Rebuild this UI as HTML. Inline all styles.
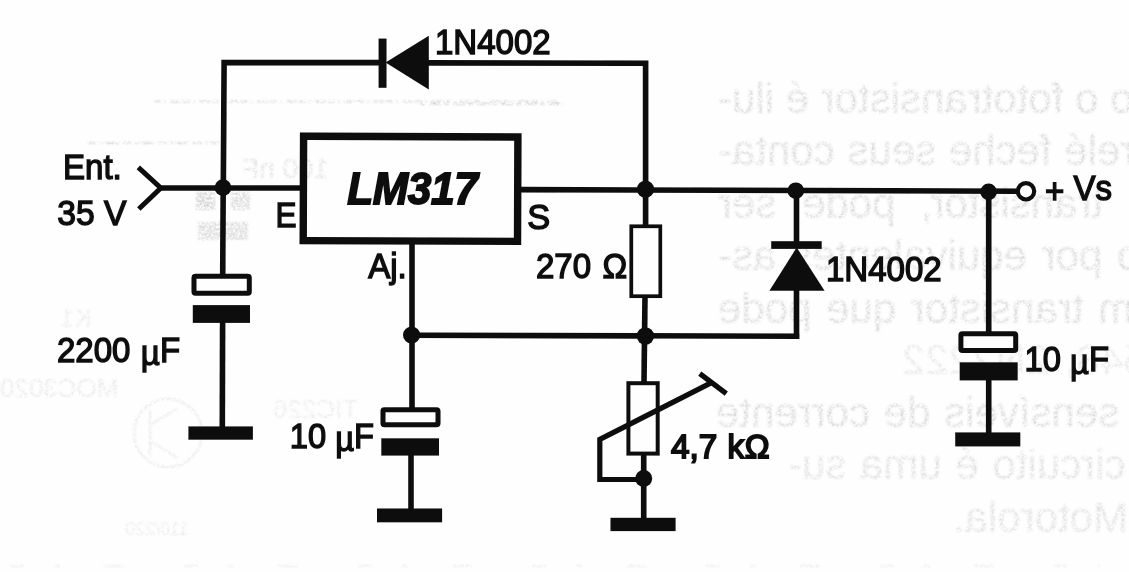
<!DOCTYPE html>
<html lang="pt">
<head>
<meta charset="utf-8">
<title>LM317 - fonte ajustável</title>
<style>
html,body{margin:0;padding:0;background:#fefefe;}
body{width:1129px;height:572px;overflow:hidden;position:relative;}
svg{position:absolute;left:0;top:0;display:block;}
.t{font-family:"Liberation Sans",sans-serif;font-size:35.6px;fill:#111;stroke:#111;stroke-width:1.45px;}
.lm{font-family:"Liberation Sans",sans-serif;font-size:45px;font-weight:bold;font-style:italic;fill:#111;stroke:#111;stroke-width:1.8px;letter-spacing:-0.4px;}
.w{stroke:#0c0c0c;stroke-width:5.6;fill:none;stroke-linecap:butt;stroke-linejoin:miter;}
.f{fill:#0c0c0c;stroke:none;}
.g{font-family:"Liberation Sans",sans-serif;font-size:42px;fill:#d9d9d9;}
</style>
</head>
<body>
<svg width="1129" height="572" viewBox="0 0 1129 572">
<defs>
<filter id="soft" x="-2%" y="-2%" width="104%" height="104%"><feGaussianBlur stdDeviation="0.55"/></filter>
<filter id="ghost" x="-2%" y="-10%" width="104%" height="120%">
<feGaussianBlur in="SourceGraphic" stdDeviation="0.9" result="b"/>
<feTurbulence type="fractalNoise" baseFrequency="0.42" numOctaves="2" seed="7" result="n"/>
<feColorMatrix in="n" type="matrix" values="0 0 0 0 0  0 0 0 0 0  0 0 0 0 0  2.4 0 0 0 -0.62" result="na"/>
<feComposite in="b" in2="na" operator="in" result="c"/>
<feGaussianBlur in="c" stdDeviation="0.5"/>
</filter>
</defs>
<rect x="0" y="0" width="1129" height="572" fill="#fefefe"/>

<!-- bleed-through (mirrored) text from the back of the page -->
<g class="g" filter="url(#ghost)" transform="translate(1850,0) scale(-1,1)" text-anchor="end">
<text x="1132" y="112.5" style="word-spacing:0px">do o fototransistor é ilu-</text>
<text x="1132" y="165" style="word-spacing:1px">que o relé feche seus conta-</text>
<text x="1132" y="217.5" style="word-spacing:14px">O transistor, pode ser</text>
<text x="1132" y="270" style="word-spacing:3px">do por equivalentes as-</text>
<text x="1132" y="322.5" style="word-spacing:3px">um transistor que pode</text>
<text x="948" y="374" style="word-spacing:4px;fill:#e6e6e6">o BC548, 2N2222</text>
<text x="1134" y="427" style="word-spacing:2px">mais sensíveis de corrente</text>
<text x="1062" y="479" style="word-spacing:2px;fill:#dfdfdf">mA. O circuito é uma su-</text>
<text x="897" y="532" style="word-spacing:0px;fill:#e0e0e0">da Motorola.</text>
<text x="1608" y="178" style="font-size:28px;fill:#dcdcdc">100 nF</text>
<text x="1850" y="397" style="font-size:26px;fill:#e6e6e6">MOC3020</text>
<text x="1790" y="327" style="font-size:26px;fill:#e8e8e8">K1</text>
<text x="1577" y="418" style="font-size:26px;fill:#e8e8e8">TIC226</text>
<text x="1725" y="535" style="font-size:18px;fill:#e6e6e6">110/220</text>
</g>

<g filter="url(#ghost)" fill="none" stroke="#d0d0d0" stroke-width="2">
<path d="M154 101.5 H560" stroke-dasharray="7 3 2 4 11 2"/>
<path d="M88 143 H219" stroke-dasharray="9 3 3 2 14 4"/>
<path d="M420 104 H565" stroke-dasharray="5 4 12 3"/>
<path d="M10 566 H1100" stroke="#e2e2e2" stroke-width="1.5" stroke-dasharray="14 30 6 44 20 60"/>
<circle cx="168" cy="433" r="34" stroke="#e4e4e4"/>
<path d="M150 410 V456 M150 425 L178 408 M150 441 L178 458" stroke="#e4e4e4"/>
<rect x="196" y="192" width="19" height="18" fill="#d8d8d8" stroke="none"/>
<rect x="231" y="192" width="19" height="18" fill="#dedede" stroke="none"/>
<rect x="198" y="222" width="50" height="18" fill="#dedede" stroke="none"/>
</g>
<g filter="url(#soft)">
<!-- wires -->
<path class="w" d="M223.3 190 L224.1 62.6 H380"/>
<path class="w" d="M428 62.9 L645.6 63.3 V226"/>
<path class="w" d="M160 188 H301"/>
<path class="w" d="M520 189.6 L1017 191.2"/>
<path class="w" d="M223.2 188 L222.7 275"/>
<path class="w" d="M222.6 322 L222.3 428"/>
<path class="w" d="M412 243 V408"/>
<path class="w" d="M411 455 V510"/>
<path class="w" d="M411.6 335.3 L799.2 336.2"/>
<path class="w" d="M645 297 L644 382"/>
<path class="w" d="M643.7 455 V519"/>
<path class="w" d="M796.5 190.5 V243"/>
<path class="w" d="M796.5 290 V338.9"/>
<path class="w" d="M988.7 191 V333"/>
<path class="w" d="M988.7 380 V434"/>

<!-- input arrow -->
<path class="w" style="stroke-width:5" d="M138.3 167.3 L160.8 188 L138.8 209"/>

<!-- diode 1 (horizontal) -->
<rect class="f" x="378.6" y="38.6" width="7.9" height="49.2"/>
<path class="f" d="M385.6 62.6 L428.8 35.8 V89.4 Z"/>

<!-- LM317 box -->
<rect x="303.4" y="136.6" width="214.3" height="104.4" fill="none" stroke="#0c0c0c" stroke-width="7.4" transform="rotate(0.2 410.6 188.8)"/>

<!-- resistor 270 -->
<rect x="631.3" y="226.3" width="29" height="69.9" fill="#fefefe" stroke="#0c0c0c" stroke-width="3.7"/>

<!-- diode 2 (vertical) -->
<rect class="f" x="771.2" y="241.2" width="50.5" height="7.7"/>
<path class="f" d="M796.7 247.5 L824.6 290.8 H769.4 Z"/>

<!-- potentiometer -->
<rect x="628.4" y="383.2" width="29.3" height="70.4" fill="#fefefe" stroke="#0c0c0c" stroke-width="4"/>
<path class="w" style="stroke-width:5.2" d="M643.7 479.5 H599.8 V439.4 L712 382.4"/>
<path class="w" style="stroke-width:5.2" d="M699.8 373.6 L726.3 393.6"/>

<!-- capacitor left -->
<rect x="194" y="276.2" width="55.3" height="17.1" rx="1.5" fill="#fefefe" stroke="#0c0c0c" stroke-width="5"/>
<rect class="f" x="192.8" y="305.1" width="57.2" height="17.8"/>
<rect class="f" x="188.4" y="426.4" width="64.5" height="13.3"/>

<!-- capacitor middle -->
<rect x="383" y="409.7" width="55" height="15" rx="1.5" fill="#fefefe" stroke="#0c0c0c" stroke-width="5"/>
<rect class="f" x="381.3" y="438.3" width="57.7" height="17.3"/>
<rect class="f" x="377" y="508.5" width="65.1" height="13.8"/>

<!-- capacitor right -->
<rect x="960.9" y="333.7" width="54.8" height="16.8" rx="1.5" fill="#fefefe" stroke="#0c0c0c" stroke-width="5"/>
<rect class="f" x="959.7" y="362.3" width="58" height="18.1"/>
<rect class="f" x="955.2" y="432.4" width="65.1" height="14"/>

<!-- pot ground -->
<rect class="f" x="610.5" y="517.8" width="65.1" height="13.3"/>

<!-- junction dots -->
<circle class="f" cx="223" cy="187.6" r="8.4"/>
<circle class="f" cx="645.5" cy="189.2" r="8.6"/>
<circle class="f" cx="795.8" cy="190.7" r="8.3"/>
<circle class="f" cx="988.6" cy="191.8" r="8.3"/>
<circle class="f" cx="411.6" cy="335" r="8.6"/>
<circle class="f" cx="645.4" cy="336" r="8.7"/>
<circle class="f" cx="643.7" cy="478.4" r="8.5"/>
<circle cx="1026" cy="191.3" r="8.2" fill="#fefefe" stroke="#0c0c0c" stroke-width="4.2"/>

<!-- labels -->
<text class="t" transform="translate(435.0 54.1) scale(0.928 1)">1N4002</text>
<text class="t" transform="translate(63.0 178.6) scale(0.928 1)">Ent.</text>
<text class="t" transform="translate(57.3 225.2) scale(0.945 1)">35 V</text>
<text class="t" transform="translate(275.5 227.3) scale(0.885 1)">E</text>
<text class="t" transform="translate(527.3 228.9) scale(0.965 1)">S</text>
<text class="lm" transform="translate(347.2 204.2) scale(0.945 1)" x="0" y="0">LM317</text>
<text class="t" transform="translate(368.2 278.3) scale(0.928 1)">Aj.</text>
<text class="t" transform="translate(536.0 277.8) scale(0.928 1)">270<tspan dx="2.5"> Ω</tspan></text>
<text class="t" transform="translate(826.0 280.8) scale(0.928 1)">1N4002</text>
<text class="t" transform="translate(1045.0 199.6) scale(0.928 1)"><tspan dy="3.7">+</tspan><tspan dy="-3.7"> Vs</tspan></text>
<text class="t" transform="translate(1024.6 371.2) scale(0.919 1)">10 <tspan dy="3">µ</tspan><tspan dy="-3">F</tspan></text>
<text class="t" transform="translate(57.0 362.4) scale(0.928 1)">2200<tspan dx="1.3"> </tspan><tspan dy="3">µ</tspan><tspan dy="-3">F</tspan></text>
<text class="t" transform="translate(289.8 447.9) scale(0.918 1)">10 <tspan dy="3">µ</tspan><tspan dy="-3">F</tspan></text>
<text class="t" transform="translate(671.0 457.8) scale(0.99 1)" style="stroke-width:1.9px;font-size:33.6px">4,7<tspan dx="1"> k</tspan><tspan dx="0.6">Ω</tspan></text>
</g>
</svg>
</body>
</html>
